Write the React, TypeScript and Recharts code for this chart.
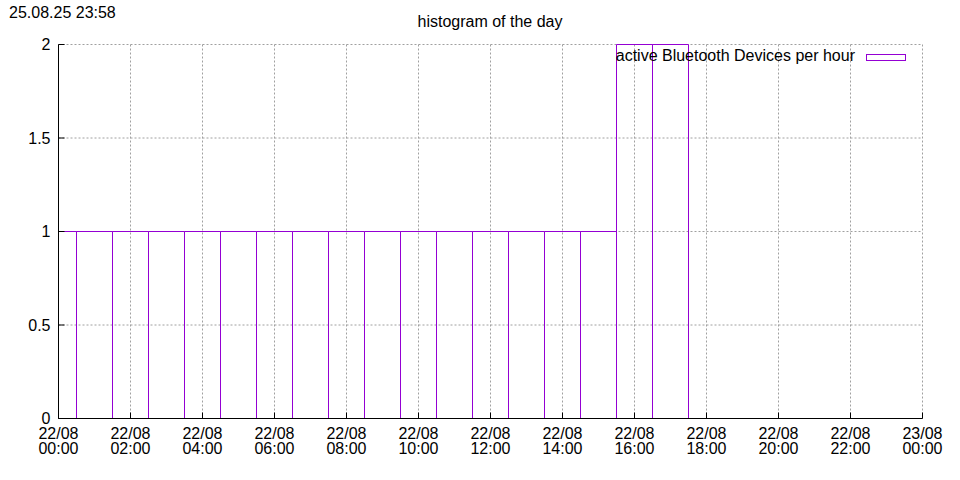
import React from 'react';
import { ComposedChart, Bar, XAxis, YAxis, CartesianGrid, Legend } from 'recharts';

// one box per hour of 22/08
const hours = [0, 1, 2, 3, 4, 5, 6, 7, 8, 9, 10, 11, 12, 13, 14, 15, 16, 17, 18, 19, 20, 21, 22, 23];
const devices = [1, 1, 1, 1, 1, 1, 1, 1, 1, 1, 1, 1, 1, 1, 1, 1, 2, 2, 0, 0, 0, 0, 0, 0];

const xTicks = [0, 2, 4, 6, 8, 10, 12, 14, 16, 18, 20, 22, 24];
const xTickDates = ['22/08', '22/08', '22/08', '22/08', '22/08', '22/08', '22/08', '22/08', '22/08', '22/08', '22/08', '22/08', '23/08'];
const xTickTimes = ['00:00', '02:00', '04:00', '06:00', '08:00', '10:00', '12:00', '14:00', '16:00', '18:00', '20:00', '22:00', '00:00'];
const yTicks = [0, 0.5, 1, 1.5, 2];

const title = 'histogram of the day';
const stamp = '25.08.25 23:58';
const seriesName = 'active Bluetooth Devices per hour';

const data = hours.map((h, i) => ({ hour: h, devices: devices[i] }));

const PURPLE = '#9400d3';
const FONT = '"Liberation Sans", Arial, sans-serif';

type TickProps = { x?: number; y?: number; payload?: { value: number } };

const HourTick = ({ x = 0, y = 0, payload }: TickProps) => {
  const i = xTicks.indexOf(payload ? payload.value : -1);
  return (
    <text x={x} y={y} textAnchor="middle" fill="#000" fontSize={16}>
      <tspan x={x} dy={20}>{xTickDates[i]}</tspan>
      <tspan x={x} dy={15}>{xTickTimes[i]}</tspan>
    </text>
  );
};

type BoxProps = { x?: number; y?: number; width?: number; height?: number };

// open box: the bottom edge sits on the black x axis, so leave it out
const HourBox = ({ x = 0, y = 0, width = 0, height = 0 }: BoxProps) => {
  if (!height) return null;
  const w = Math.round(width);
  return (
    <path
      d={`M${x},${y + height}V${y}H${x + w}V${y + height}`}
      fill="none"
      stroke={PURPLE}
      strokeWidth={1}
    />
  );
};

const KeyContent = ({ payload }: { payload?: Array<{ value: string }> }) => {
  const item = payload && payload[0];
  if (!item) return null;
  return (
    <svg width={960} height={24} style={{ display: 'block' }}>
      <text x={855} y={17} textAnchor="end" fontSize={16} fill="#000">
        {item.value}
      </text>
      <rect x={866.5} y={10.5} width={39} height={6} fill="none" stroke={PURPLE} />
    </svg>
  );
};

export default function App() {
  return (
    <div style={{ position: 'absolute', left: 0, top: 0, width: 960, height: 480, background: '#fff', fontFamily: FONT }}>
      <div style={{ position: 'absolute', left: 9, top: 5, fontSize: 16, lineHeight: '16px', whiteSpace: 'nowrap' }}>{stamp}</div>
      <div style={{ position: 'absolute', left: 490, top: 14, fontSize: 16, lineHeight: '16px', whiteSpace: 'nowrap', transform: 'translateX(-50%)' }}>{title}</div>
      <ComposedChart
        width={960}
        height={480}
        data={data}
        margin={{ top: 44.5, right: 37.5, bottom: 0, left: 0 }}
        barCategoryGap={0}
        barGap={0}
      >
        <CartesianGrid stroke="#a0a0a0" strokeDasharray="2 2" />
        <Bar
          dataKey="devices"
          name={seriesName}
          barSize={35.99}
          fill="none"
          stroke={PURPLE}
          shape={<HourBox />}
          isAnimationActive={false}
        />
        <XAxis
          dataKey="hour"
          type="number"
          domain={[0, 24]}
          ticks={xTicks}
          allowDataOverflow
          height={61.5}
          axisLine={{ stroke: '#000' }}
          tickLine={{ stroke: '#000' }}
          tickSize={-6}
          tickMargin={6}
          tick={<HourTick />}
          interval={0}
        />
        <XAxis
          xAxisId="top"
          orientation="top"
          dataKey="hour"
          type="number"
          domain={[0, 24]}
          ticks={xTicks}
          height={0}
          axisLine={{ stroke: '#000' }}
          tickLine={{ stroke: '#000' }}
          tickSize={-6}
          tickFormatter={() => ''}
          interval={0}
        />
        <YAxis
          type="number"
          domain={[0, 2]}
          ticks={yTicks}
          width={58.5}
          axisLine={{ stroke: '#000' }}
          tickLine={{ stroke: '#000' }}
          tickSize={-6}
          tickMargin={14}
          tick={{ fill: '#000', fontSize: 16 }}
          interval={0}
        />
        <YAxis
          yAxisId="right"
          orientation="right"
          type="number"
          domain={[0, 2]}
          ticks={yTicks}
          width={0}
          axisLine={{ stroke: '#000' }}
          tickLine={{ stroke: '#000' }}
          tickSize={-6}
          tickFormatter={() => ''}
          interval={0}
        />
        <Legend
          layout="horizontal"
          verticalAlign="middle"
          align="center"
          content={<KeyContent />}
          wrapperStyle={{ position: 'absolute', top: 44, left: 0, width: 960, height: 24 }}
        />
      </ComposedChart>
    </div>
  );
}
